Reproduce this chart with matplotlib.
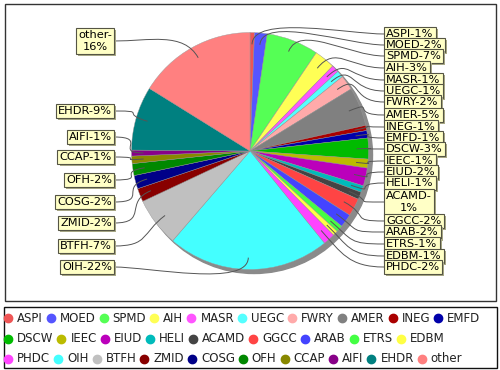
import numpy as np
import matplotlib
matplotlib.use("Agg")
import matplotlib.pyplot as plt
from matplotlib.path import Path
from matplotlib.patches import PathPatch, Circle, Rectangle
import matplotlib.patheffects as pe

# data
names = ["ASPI", "MOED", "SPMD", "AIH", "MASR", "UEGC", "FWRY", "AMER", "INEG", "EMFD",
         "DSCW", "IEEC", "EIUD", "HELI", "ACAMD", "GGCC", "ARAB", "ETRS", "EDBM",
         "PHDC", "OIH", "BTFH", "ZMID", "COSG", "OFH", "CCAP", "AIFI", "EHDR", "other"]
values = [0.6, 1.7, 7.0, 2.8, 1.0, 0.9, 2.0, 5.2, 0.7, 1.0,
          2.8, 1.2, 2.4, 0.9, 1.0, 2.4, 1.8, 0.9, 0.7,
          1.6, 21.8, 6.6, 1.8, 1.8, 1.6, 1.0, 0.8, 8.6, 15.9]
pct_labels = [1, 2, 7, 3, 1, 1, 2, 5, 1, 1,
              3, 1, 2, 1, 1, 2, 2, 1, 1,
              2, 22, 7, 2, 2, 2, 1, 1, 9, 16]
colors = ["#ee5555", "#5555ff", "#55ff55", "#ffff55", "#ff55ff", "#55ffff", "#ffaaaa",
          "#808080", "#aa0000", "#0000aa", "#00bb00", "#bbbb00", "#bb00bb", "#00bbbb",
          "#444444", "#ff4444", "#4444ff", "#44ff44", "#ffff44", "#ff44ff", "#44ffff",
          "#c0c0c0", "#880000", "#000088", "#008800", "#888800", "#880088", "#008080",
          "#ff8080"]

# label layout (pixel rows from the top of the image)
right_names = names[:20]
right_y = [34, 45, 56, 68, 80, 91, 102, 115, 127, 138, 149, 161, 172, 183, 202,
           221, 232, 244, 256, 267]
left_names = names[20:]
left_y = [267, 246, 223, 202, 180, 157, 137, 111, 41]

W, H = 500, 370
fig = plt.figure(figsize=(W / 100, H / 100), dpi=100)
ax = fig.add_axes([0, 0, 1, 1])

def py(y):
    return H - y

cx, cy, R = 250, py(151), 118.5

# pie shadow
ax.add_patch(Circle((cx + 4, cy - 4), R, color="#8a8a8a", zorder=1))
wedges, _ = ax.pie(values, colors=colors, startangle=90, counterclock=False,
                   center=(cx, cy), radius=R,
                   wedgeprops=dict(linewidth=0.3, edgecolor="#999999"))
for w in wedges:
    w.set_zorder(2)

ax.set_xlim(0, W)
ax.set_ylim(0, H)
ax.set_aspect("auto")
ax.axis("off")

# borders
ax.add_patch(Rectangle((5, py(301)), 491, 297, fill=False, ec="#333333", lw=1, zorder=0))
ax.add_patch(Rectangle((4, py(368)), 493, 61, fill=False, ec="#111111", lw=1, zorder=0))

total = sum(values)
cum = np.cumsum([0] + values)
anchors = {}
for i, n in enumerate(names):
    mid = (cum[i] + values[i] / 2) / total * 360
    a = np.deg2rad(90 - mid)
    anchors[n] = (cx + 0.9 * R * np.cos(a), cy + 0.9 * R * np.sin(a), np.cos(a), np.sin(a))

def label_text(n):
    p = pct_labels[names.index(n)]
    if n == "other":
        return "other-\n16%"
    if n == "ACAMD":
        return "ACAMD-\n1%"
    return f"{n}-{p}%"

def connector(n, sx, sy, d):
    ax_, ay_, ux, uy = anchors[n]
    verts = [(sx, sy), (sx + d * 35, sy), (ax_ + ux * 30, ay_ + uy * 30), (ax_, ay_)]
    path = Path(verts, [Path.MOVETO, Path.CURVE4, Path.CURVE4, Path.CURVE4])
    ax.add_patch(PathPatch(path, fill=False, ec="#555555", lw=0.7, zorder=3))

bbox = dict(boxstyle="square,pad=0.2", fc="#ffffc6", ec="#555544", lw=0.8)
shadow = [pe.SimplePatchShadow(offset=(1.5, -1.5), shadow_rgbFace="#aaaa88", alpha=1.0),
          pe.Normal()]

z = 10
for n, y in zip(right_names, right_y):
    connector(n, 384, py(y), -1)
    t = ax.text(386, py(y), label_text(n), ha="left", va="center", fontsize=8.2,
                multialignment="center", bbox=bbox, zorder=z)
    t.get_bbox_patch().set_path_effects(shadow)
    z += 1

for n, y in zip(left_names, left_y):
    connector(n, 114, py(y), 1)
    t = ax.text(112, py(y), label_text(n), ha="right", va="center", fontsize=8.2,
                multialignment="center", bbox=bbox, zorder=z)
    t.get_bbox_patch().set_path_effects(shadow)
    z += 1

# flowing legend
renderer = fig.canvas.get_renderer()
row_y = [318, 339, 359]
x, row = 8, 0
for n, c in zip(names, colors):
    t = ax.text(0, 0, n, fontsize=8.5, ha="left", va="center", color="#222222")
    w = t.get_window_extent(renderer).width
    if x + 9 + w > 494:
        row += 1
        x = 8
    t.set_position((x + 9, py(row_y[row])))
    ax.plot(x, py(row_y[row]), "o", ms=6, color=c, mec=c, zorder=5)
    x += 9 + w + 8

fig.savefig("out.png", dpi=100)
